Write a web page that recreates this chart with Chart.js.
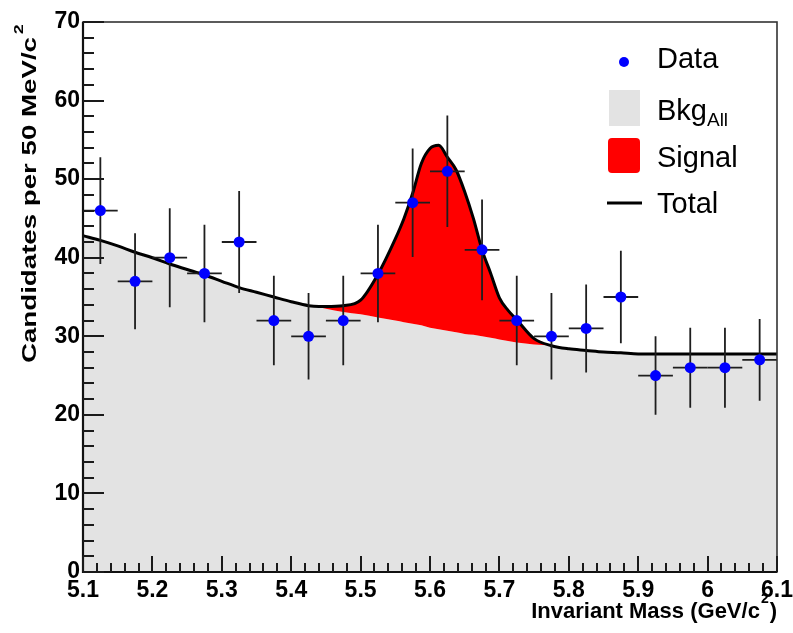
<!DOCTYPE html>
<html>
<head>
<meta charset="utf-8">
<script src="https://cdn.jsdelivr.net/npm/chart.js@4.4.1/dist/chart.umd.min.js"></script>
<style>
html,body{margin:0;padding:0;background:#ffffff;}
canvas{display:block;}
</style>
</head>
<body>
<canvas id="c" width="793" height="633"></canvas>
<script>
// ---------- data ----------
const binCenters = [5.125,5.175,5.225,5.275,5.325,5.375,5.425,5.475,5.525,5.575,5.625,5.675,5.725,5.775,5.825,5.875,5.925,5.975,6.025,6.075];
const counts      = [46,37,40,38,42,32,30,32,38,47,51,41,32,30,31,35,25,26,26,27];
const countErrors = [6.8,6.1,6.3,6.2,6.5,5.7,5.5,5.7,6.2,6.9,7.1,6.4,5.7,5.5,5.6,5.9,5.0,5.1,5.1,5.2];
const binHalfWidth = 0.025;

const curveMass  = [5.100,5.125,5.150,5.175,5.200,5.225,5.250,5.275,5.300,5.325,5.350,5.375,5.400,5.425,5.440,5.450,5.475,5.500,5.525,5.550,5.5625,5.575,5.5875,5.600,5.6125,5.625,5.6375,5.650,5.6625,5.675,5.6875,5.700,5.7125,5.725,5.750,5.775,5.800,5.825,5.850,5.875,5.900,5.950,6.000,6.050,6.100];
const bkgCurve   = [42.8,42.2,41.5,40.7,40.0,39.2,38.5,37.8,37.0,36.2,35.6,35.0,34.4,33.9,33.7,33.5,33.1,32.8,32.4,32.0,31.8,31.6,31.4,31.1,30.9,30.7,30.5,30.3,30.2,30.0,29.8,29.6,29.4,29.2,28.95,28.8,28.4,28.2,28.0,27.9,27.75,27.75,27.75,27.75,27.75];
const totalCurve = [42.8,42.2,41.5,40.7,40.0,39.2,38.5,37.8,37.0,36.2,35.6,35.0,34.4,33.9,33.8,33.8,33.9,34.6,37.9,42.4,45.0,48.2,52.0,53.9,54.3,52.8,51.2,48.4,45.0,41.0,38.0,34.9,33.3,32.1,29.7,28.8,28.4,28.2,28.0,27.9,27.75,27.75,27.75,27.75,27.75];

const xTickValues = [5.1,5.2,5.3,5.4,5.5,5.6,5.7,5.8,5.9,6.0,6.1];
const xTickLabels = ['5.1','5.2','5.3','5.4','5.5','5.6','5.7','5.8','5.9','6','6.1'];
const yTickValues = [0,10,20,30,40,50,60,70];
const yTickLabels = ['0','10','20','30','40','50','60','70'];

const legendLabels = ['Data','Bkg','Signal','Total'];
const legendSub = 'All';
const yTitle = 'Candidates per 50 MeV/c';
const xTitle = 'Invariant Mass (GeV/c';

// ---------- styling ----------
const FONT = "'Liberation Sans', Arial, Helvetica, sans-serif";
const toXY = (xs, ys) => xs.map((x, i) => ({x: x, y: ys[i]}));

const rootStyle = {
  id: 'rootStyle',
  beforeDatasetDraw(chart, args) {
    if (args.index !== 0) return;
    const ctx = chart.ctx, xs = chart.scales.x, ys = chart.scales.y;
    ctx.save();
    ctx.strokeStyle = '#1e1e1e';
    ctx.lineWidth = 1.8;
    binCenters.forEach((m, i) => {
      const px = xs.getPixelForValue(m);
      const py = ys.getPixelForValue(counts[i]);
      const x0 = xs.getPixelForValue(m - binHalfWidth);
      const x1 = xs.getPixelForValue(m + binHalfWidth);
      const yt = ys.getPixelForValue(counts[i] + countErrors[i]);
      const yb = ys.getPixelForValue(counts[i] - countErrors[i]);
      ctx.beginPath();
      ctx.moveTo(x0, py); ctx.lineTo(x1, py);
      ctx.moveTo(px, yt); ctx.lineTo(px, yb);
      ctx.stroke();
    });
    ctx.restore();
  },
  afterDatasetsDraw(chart) {
    const ctx = chart.ctx, a = chart.chartArea, xs = chart.scales.x, ys = chart.scales.y;
    ctx.save();
    // frame
    ctx.strokeStyle = '#333333';
    ctx.lineWidth = 1.6;
    ctx.strokeRect(a.left, a.top, a.right - a.left, a.bottom - a.top);
    ctx.strokeStyle = '#111111';
    ctx.lineWidth = 2.2;
    ctx.beginPath();
    ctx.moveTo(a.left, a.top); ctx.lineTo(a.left, a.bottom); ctx.lineTo(a.right, a.bottom);
    ctx.stroke();
    // inner ticks
    ctx.strokeStyle = '#1a1a1a';
    ctx.lineWidth = 2;
    ctx.beginPath();
    for (let k = 0; k <= 35; k++) {
      const py = Math.round(ys.getPixelForValue(k * 2));
      const len = (k % 5 === 0) ? 21 : 11;
      ctx.moveTo(a.left, py); ctx.lineTo(a.left + len, py);
    }
    for (let k = 0; k <= 50; k++) {
      const px = Math.round(xs.getPixelForValue(5.1 + k * 0.02));
      const len = (k % 5 === 0) ? 16 : 9;
      ctx.moveTo(px, a.bottom); ctx.lineTo(px, a.bottom - len);
    }
    ctx.stroke();
    ctx.restore();
  },
  afterDraw(chart) {
    const ctx = chart.ctx;
    ctx.save();
    ctx.fillStyle = '#000';
    ctx.textBaseline = 'alphabetic';
    // y title (stretched along its length like the reference)
    ctx.save();
    ctx.translate(36, 363);
    ctx.rotate(-Math.PI / 2);
    ctx.font = 'bold 20px ' + FONT;
    const wy = ctx.measureText(yTitle).width;
    ctx.scale(326 / wy, 1);
    ctx.textAlign = 'left';
    ctx.fillText(yTitle, 0, 0);
    ctx.font = 'bold 13px ' + FONT;
    ctx.fillText('2', wy + 2, -13);
    ctx.restore();
    // x title
    ctx.font = 'bold 22px ' + FONT;
    const wMain = ctx.measureText(xTitle).width;
    const wClose = ctx.measureText(')').width;
    ctx.font = 'bold 14px ' + FONT;
    const wSup = ctx.measureText('2').width;
    const start = 777 - (wMain + wSup + 2 + wClose);
    ctx.font = 'bold 22px ' + FONT;
    ctx.fillText(xTitle, start, 618);
    ctx.fillText(')', start + wMain + wSup + 2, 618);
    ctx.font = 'bold 14px ' + FONT;
    ctx.fillText('2', start + wMain + 1, 603);
    // legend
    ctx.fillStyle = '#0000ff';
    ctx.beginPath(); ctx.arc(624, 62, 5, 0, Math.PI * 2); ctx.fill();
    ctx.fillStyle = '#e3e3e3';
    ctx.fillRect(609, 90, 31, 36);
    ctx.fillStyle = '#ff0000';
    ctx.beginPath();
    if (ctx.roundRect) ctx.roundRect(608, 138, 32, 35, 4); else ctx.rect(608, 138, 32, 35);
    ctx.fill();
    ctx.strokeStyle = '#000';
    ctx.lineWidth = 3;
    ctx.beginPath(); ctx.moveTo(607, 203); ctx.lineTo(642, 203); ctx.stroke();
    ctx.fillStyle = '#000';
    ctx.font = '29px ' + FONT;
    ctx.fillText(legendLabels[0], 657, 68);
    ctx.fillText(legendLabels[1], 657, 120);
    const wb = ctx.measureText(legendLabels[1]).width;
    ctx.fillText(legendLabels[2], 657, 167);
    ctx.fillText(legendLabels[3], 657, 213);
    ctx.font = '19px ' + FONT;
    ctx.fillText(legendSub, 657 + wb, 126);
    ctx.restore();
  }
};

new Chart(document.getElementById('c').getContext('2d'), {
  type: 'line',
  data: {
    datasets: [
      {
        label: 'Data',
        data: toXY(binCenters, counts),
        showLine: false,
        pointRadius: 5.5,
        pointHoverRadius: 5.5,
        pointBackgroundColor: '#0000ff',
        pointBorderColor: '#0000ff',
        pointBorderWidth: 0,
        order: 0
      },
      {
        label: 'Bkg',
        data: toXY(curveMass, bkgCurve),
        borderWidth: 0,
        borderColor: 'rgba(0,0,0,0)',
        pointRadius: 0,
        fill: 'origin',
        backgroundColor: '#e3e3e3',
        cubicInterpolationMode: 'monotone',
        order: 2
      },
      {
        label: 'Total',
        data: toXY(curveMass, totalCurve),
        borderColor: '#000000',
        borderWidth: 3,
        pointRadius: 0,
        fill: {target: '-1', above: '#ff0000', below: '#ff0000'},
        backgroundColor: '#ff0000',
        cubicInterpolationMode: 'monotone',
        order: 1
      }
    ]
  },
  options: {
    responsive: false,
    animation: false,
    devicePixelRatio: 1,
    layout: {padding: {top: 22, right: 16, left: 0, bottom: 0}},
    plugins: {legend: {display: false}, tooltip: {enabled: false}},
    events: [],
    scales: {
      x: {
        type: 'linear', min: 5.1, max: 6.1,
        border: {display: false},
        grid: {display: false, drawTicks: false},
        afterBuildTicks: s => { s.ticks = xTickValues.map(v => ({value: v})); },
        ticks: {
          autoSkip: false, maxRotation: 0, minRotation: 0, padding: 5,
          color: '#000', font: {family: FONT, size: 23, weight: 'bold'},
          callback: (v, i) => xTickLabels[i]
        },
        afterFit: s => { s.height = 61; s.paddingLeft = 0; s.paddingRight = 0; }
      },
      y: {
        type: 'linear', min: 0, max: 70,
        border: {display: false},
        grid: {display: false, drawTicks: false},
        afterBuildTicks: s => { s.ticks = yTickValues.map(v => ({value: v})); },
        ticks: {
          autoSkip: false, padding: 3,
          color: '#000', font: {family: FONT, size: 23, weight: 'bold'},
          callback: (v, i) => yTickLabels[i]
        },
        afterFit: s => { s.width = 83; s.paddingTop = 0; s.paddingBottom = 0; }
      }
    }
  },
  plugins: [rootStyle]
});
</script>
</body>
</html>
